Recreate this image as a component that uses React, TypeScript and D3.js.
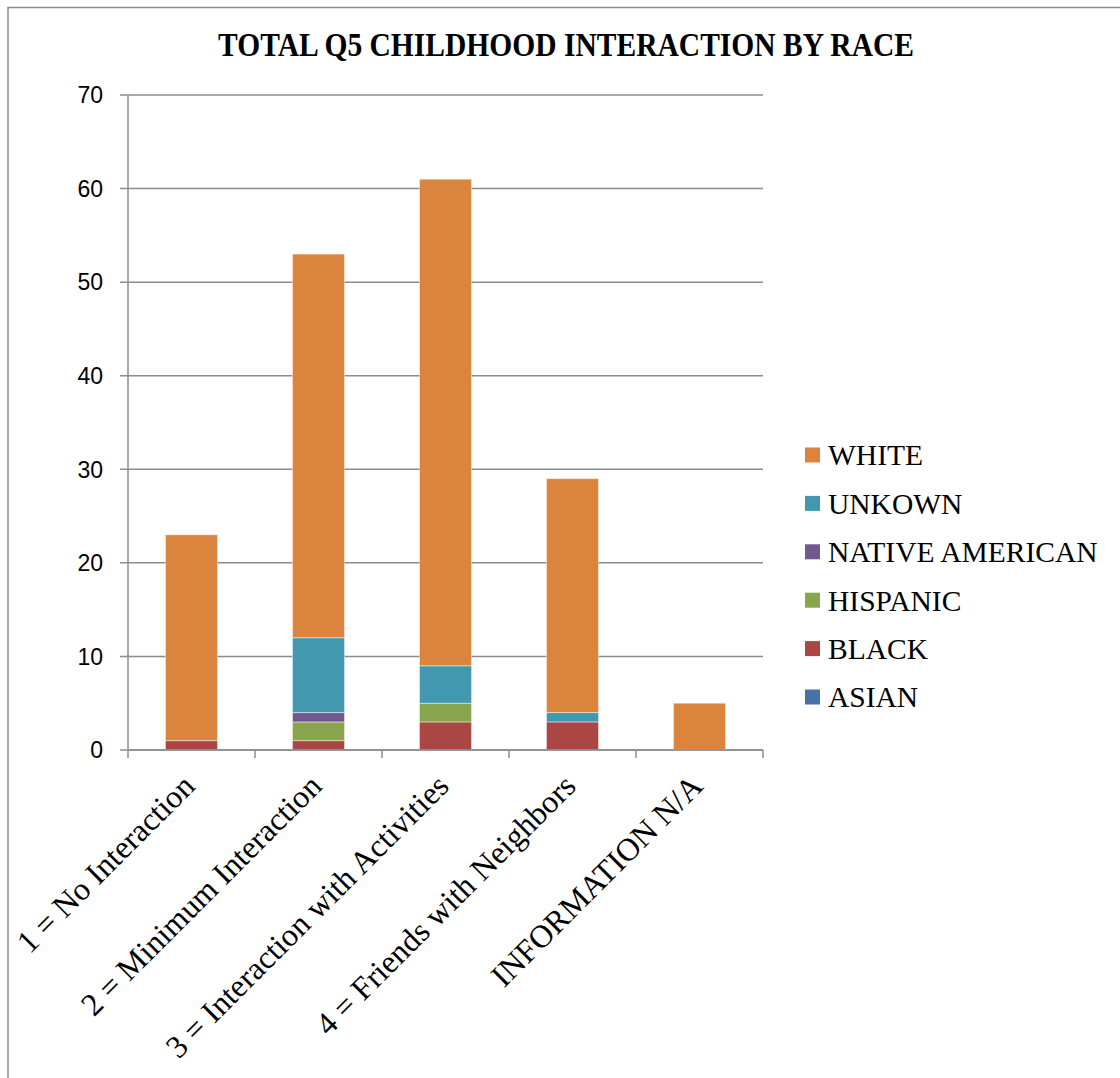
import React from "react";
import * as d3 from "d3";

const categories = [
  "1 = No Interaction",
  "2 = Minimum Interaction",
  "3 = Interaction with Activities",
  "4 = Friends with Neighbors",
  "INFORMATION N/A",
];

// stacking order bottom -> top
const seriesNames = ["ASIAN", "BLACK", "HISPANIC", "NATIVE AMERICAN", "UNKOWN", "WHITE"];
const asian = [0, 0, 0, 0, 0];
const black = [1, 1, 3, 3, 0];
const hispanic = [0, 2, 2, 0, 0];
const nativeAmerican = [0, 1, 0, 0, 0];
const unknown = [0, 8, 4, 1, 0];
const white = [22, 41, 52, 25, 5];
const seriesColors = ["#4572A7", "#AA4643", "#89A54E", "#71588F", "#4198AF", "#DB843D"];
const yTicks = [0, 10, 20, 30, 40, 50, 60, 70];

const seriesValues = [asian, black, hispanic, nativeAmerican, unknown, white];

const App = () => {
  const width = 1120;
  const height = 1078;
  const plot = { left: 128, right: 763, top: 95, bottom: 750 };

  const x = d3
    .scaleBand()
    .domain(categories)
    .range([plot.left, plot.right])
    .padding(0);
  const barW = x.bandwidth() * 0.41;

  const y = d3.scaleLinear().domain([0, 70]).range([plot.bottom, plot.top]);

  const rows = categories.map((c, i) => {
    const r: any = { cat: c };
    seriesNames.forEach((s, j) => (r[s] = seriesValues[j][i]));
    return r;
  });
  const stacked = d3.stack().keys(seriesNames)(rows);

  const tickXs = categories.map((c) => x(c)!).concat([plot.right]);

  return (
    <svg
      width={width}
      height={height}
      style={{ position: "absolute", left: 0, top: 0, background: "#fff" }}
    >
      <rect x={8} y={7.5} width={2000} height={2000} fill="none" stroke="#8c8c8c" strokeWidth={1.5} />

      <text
        x={566}
        y={56}
        textAnchor="middle"
        fontFamily="'Liberation Serif', 'Times New Roman', serif"
        fontWeight="bold"
        fontSize={33}
        textLength={696}
        lengthAdjust="spacingAndGlyphs"
      >
        TOTAL Q5 CHILDHOOD INTERACTION BY RACE
      </text>

      {/* gridlines + y ticks */}
      {yTicks.map((t) => (
        <g key={t}>
          <line x1={120} x2={plot.right} y1={y(t)} y2={y(t)} stroke="#8c8c8c" strokeWidth={1.5} />
          <text
            x={103}
            y={y(t)}
            dy="0.36em"
            textAnchor="end"
            fontFamily="'Liberation Sans', Arial, sans-serif"
            fontSize={23}
            fill="#000"
          >
            {t}
          </text>
        </g>
      ))}
      <line x1={plot.left} x2={plot.left} y1={plot.top} y2={plot.bottom} stroke="#8c8c8c" strokeWidth={1.5} />

      {/* bars */}
      {stacked.map((layer, j) => (
        <g key={layer.key} fill={seriesColors[j]}>
          {layer.map((d, i) =>
            d[1] - d[0] > 0 ? (
              <rect
                key={i}
                x={x(categories[i])! + x.bandwidth() / 2 - barW / 2}
                y={y(d[1])}
                width={barW}
                height={y(d[0]) - y(d[1])}
                stroke="#ffffff"
                strokeOpacity={0.45}
                strokeWidth={1}
              />
            ) : null
          )}
        </g>
      ))}

      {/* x axis */}
      <line x1={plot.left} x2={plot.right} y1={plot.bottom} y2={plot.bottom} stroke="#8c8c8c" strokeWidth={1.5} />
      {tickXs.map((tx, i) => (
        <line key={i} x1={tx} x2={tx} y1={plot.bottom} y2={plot.bottom + 8} stroke="#8c8c8c" strokeWidth={1.5} />
      ))}
      {categories.map((c) => {
        const cx = x(c)! + x.bandwidth() / 2 + 5;
        const cy = plot.bottom + 38;
        return (
          <text
            key={c}
            x={cx}
            y={cy}
            transform={`rotate(-45, ${cx}, ${cy})`}
            textAnchor="end"
            fontFamily="'Liberation Serif', 'Times New Roman', serif"
            fontSize={32}
            fill="#000"
          >
            {c}
          </text>
        );
      })}

      {/* legend */}
      {[...seriesNames].reverse().map((s, k) => {
        const j = seriesNames.length - 1 - k;
        const cy = 455 + k * 48.4;
        return (
          <g key={s}>
            <rect x={805} y={cy - 7.5} width={15} height={15} fill={seriesColors[j]} />
            <text
              x={828}
              y={cy}
              dy="0.35em"
              fontFamily="'Liberation Serif', 'Times New Roman', serif"
              fontSize={29.5}
              fill="#000"
            >
              {s}
            </text>
          </g>
        );
      })}
    </svg>
  );
};

export default App;
